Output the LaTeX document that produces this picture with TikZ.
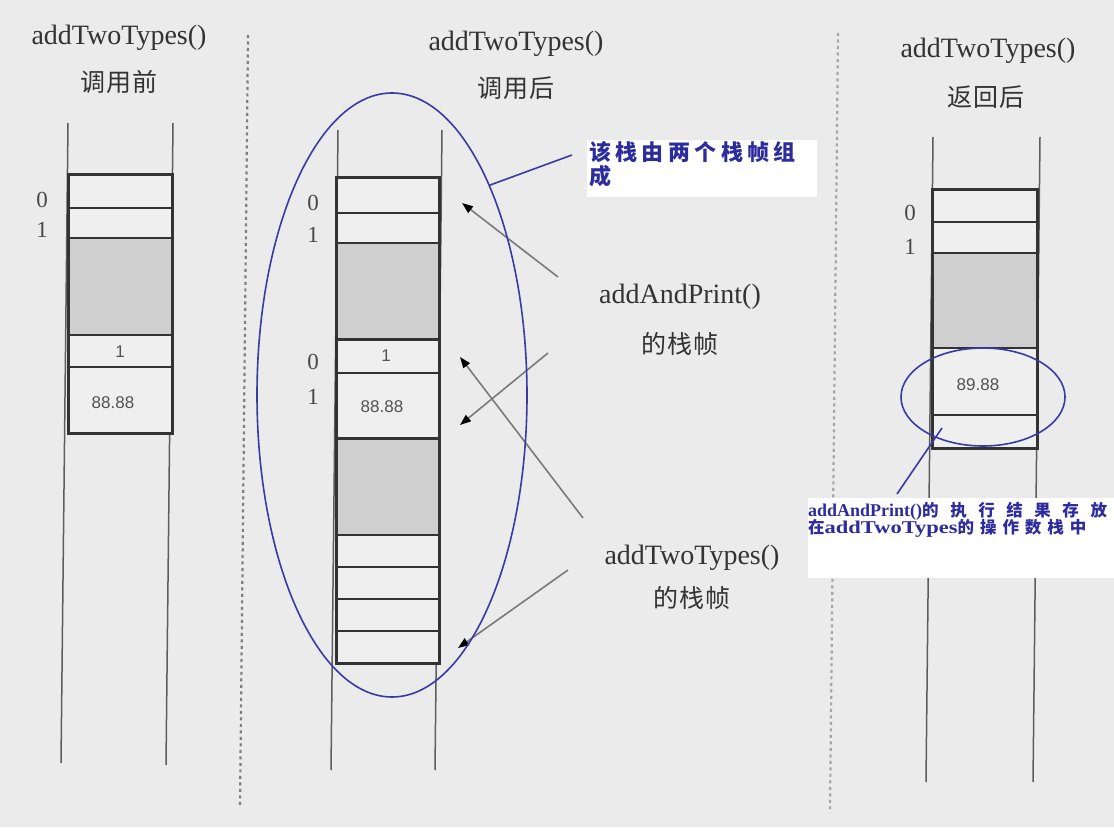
\documentclass[tikz,border=0pt]{standalone}
\usepackage{fontspec}
\setmainfont{Liberation Serif}
\setsansfont{Liberation Sans}
\newfontfamily\cjkT[LetterSpace=3]{Noto Sans CJK SC}
\newfontfamily\cjkN[LetterSpace=20]{Noto Sans CJK SC}
\newfontfamily\cjkA[LetterSpace=70]{Noto Sans CJK SC}
\newfontfamily\cjkB[LetterSpace=36]{Noto Sans CJK SC}
\newfontfamily\wideLatin[FakeStretch=1.25]{Liberation Serif}
\usetikzlibrary{arrows.meta,shapes.geometric}
\definecolor{bg}{HTML}{EBEBEB}
\definecolor{ink}{HTML}{333333}
\definecolor{cellwhite}{HTML}{EFEFEF}
\definecolor{cellgray}{HTML}{CFCFCF}
\definecolor{annblue}{HTML}{3A3AA6}
\definecolor{txtblue}{HTML}{2C2C9C}
\definecolor{arrowgray}{HTML}{7A7A7A}
\definecolor{dotgray}{HTML}{7F7F7F}
\tikzset{
  rail/.style={draw=ink!80, line width=1.5pt},
  frame/.style={draw=ink, line width=3pt},
  sep/.style={draw=ink, line width=1.8pt},
  thicksep/.style={draw=ink, line width=3pt},
  title/.style={font=\fontsize{28}{30}\selectfont, text=ink, inner sep=0},
  titlecjk/.style={font=\cjkT\fontsize{25}{27}\selectfont, text=ink, inner sep=0},
  idx/.style={font=\fontsize{23}{25}\selectfont, text=ink!90, inner sep=0},
  val/.style={font=\sffamily\fontsize{17}{19}\selectfont, text=ink!85, inner sep=0},
  divider/.style={draw=dotgray, line width=2.2pt, dash pattern=on 3pt off 3.5pt},
  ptr/.style={draw=arrowgray, line width=1.6pt, -{Triangle[length=11pt,width=8pt,color=black]}},
  ring/.style={draw=annblue, line width=1.6pt, ellipse, inner sep=0},
  lead/.style={draw=annblue, line width=1.6pt},
  notebox/.style={fill=white, inner sep=0, anchor=north west},
  notetext/.style={anchor=base west, inner sep=0, text=txtblue},
}
\begin{document}
\begin{tikzpicture}[x=1pt,y=-1pt]
\useasboundingbox (0,0) rectangle (1114,834);
\clip (0,0) rectangle (1114,834);
\fill[bg] (0,0) rectangle (1114,827);
\fill[white] (0,827) rectangle (1114,834);

% dotted dividers
\draw[divider] (248,35) -- (240,808);
\draw[divider, draw=dotgray!70] (838,33) -- (830,813);

% ---------- left stack ----------
\draw[rail] (68,123) -- (61,763);
\draw[rail] (173,123) -- (166,765);
\fill[cellwhite] (68,175) rectangle (172,433);
\fill[cellgray] (68,238) rectangle (172,335);
\draw[sep] (68,208) -- (172,208);
\draw[sep] (68,238) -- (172,238);
\draw[sep] (68,335) -- (172,335);
\draw[sep] (68,367) -- (172,367);
\draw[frame] (68,175) rectangle (172,433);

% ---------- middle stack ----------
\draw[rail] (338,130) -- (331,770);
\draw[rail] (442,130) -- (435,770);
\fill[cellwhite] (336,178) rectangle (439,663);
\fill[cellgray] (336,243) rectangle (439,340);
\fill[cellgray] (336,438) rectangle (439,535);
\draw[sep] (336,213) -- (439,213);
\draw[sep] (336,243) -- (439,243);
\draw[thicksep] (336,340) -- (439,340);
\draw[sep] (336,373) -- (439,373);
\draw[thicksep] (336,438) -- (439,438);
\draw[sep] (336,535) -- (439,535);
\draw[sep] (336,567) -- (439,567);
\draw[sep] (336,599) -- (439,599);
\draw[sep] (336,631) -- (439,631);
\draw[frame] (336,178) rectangle (439,663);

% ---------- right stack ----------
\draw[rail] (933,137) -- (926,782);
\draw[rail] (1040,137) -- (1033,782);
\fill[cellwhite] (932,190) rectangle (1037,448);
\fill[cellgray] (932,253) rectangle (1037,348);
\draw[sep] (932,222) -- (1037,222);
\draw[sep] (932,253) -- (1037,253);
\draw[sep] (932,348) -- (1037,348);
\draw[sep] (932,415) -- (1037,415);
\draw[frame] (932,190) rectangle (1037,448);

% ---------- titles ----------
\node[title] (t1) at (119,38) {addTwoTypes()};
\node[titlecjk] (t1c) at (119,82) {调用前};
\node[title] (t2) at (516,44) {addTwoTypes()};
\node[titlecjk] (t2c) at (516,88) {调用后};
\node[title] (t3) at (988,51) {addTwoTypes()};
\node[titlecjk] (t3c) at (986,97) {返回后};

% ---------- indices ----------
\node[idx] (l0) at (42,200) {0};
\node[idx] (l1) at (42,230) {1};
\node[idx] (m0) at (313,203) {0};
\node[idx] (m1) at (313,235) {1};
\node[idx] (m2) at (313,362) {0};
\node[idx] (m3) at (313,397) {1};
\node[idx] (r0) at (910,213) {0};
\node[idx] (r1) at (910,247) {1};

% ---------- values ----------
\node[val] (lv1) at (120,352) {1};
\node[val] (lv2) at (113,403) {88.88};
\node[val] (mv1) at (386,356) {1};
\node[val] (mv2) at (382,407) {88.88};
\node[val] (rv1) at (978,385) {89.88};

% ---------- side labels ----------
\node[title] (fa) at (680,297) {addAndPrint()};
\node[titlecjk] (fac) at (680,344) {的栈帧};
\node[title] (fb) at (692,558) {addTwoTypes()};
\node[titlecjk] (fbc) at (692,598) {的栈帧};

% ---------- pointer arrows ----------
\coordinate (a1s) at (558,277); \coordinate (a1e) at (462,203);
\coordinate (a2s) at (548,353); \coordinate (a2e) at (460,425);
\coordinate (a3s) at (583,518); \coordinate (a3e) at (460,357);
\coordinate (a4s) at (568,570); \coordinate (a4e) at (458,648);
\draw[ptr] (a1s) -- (a1e);
\draw[ptr] (a2s) -- (a2e);
\draw[ptr] (a3s) -- (a3e);
\draw[ptr] (a4s) -- (a4e);

% ---------- blue annotations ----------
\node[ring, minimum width=270pt, minimum height=604pt] (ring1) at (392,395) {};
\node[ring, minimum width=164pt, minimum height=98pt] (ring2) at (983,397) {};

\node[notebox, minimum width=230pt, minimum height=57pt] (n1box) at (587,140) {};
\node[anchor=north west, inner sep=0, align=left, text=txtblue,
      font=\cjkN\bfseries\fontsize{22}{24}\selectfont] (n1) at (589,141) {该栈由两个栈帧组\\成};
\coordinate (n1tip) at (572,155);
\draw[lead] (ring1.65.6) -- (n1tip);

\node[notebox, minimum width=310pt, minimum height=80pt] (n2box) at (808,498) {};
\node[notetext] (n2a) at (808,516)
  {{\bfseries\fontsize{18}{17}\selectfont addAndPrint()}{\cjkA\bfseries\fontsize{16.5}{17}\selectfont 的执行结果存放}};
\node[notetext] (n2b) at (808,533)
  {{\cjkB\bfseries\fontsize{16.5}{17}\selectfont 在}{\wideLatin\bfseries\fontsize{18}{17}\selectfont addTwoTypes}{\cjkB\bfseries\fontsize{16.5}{17}\selectfont 的操作数栈中}};
\coordinate (l2a) at (942,428);
\coordinate (l2b) at (897,494);
\draw[lead] (l2a) -- (l2b);
\end{tikzpicture}
\end{document}
